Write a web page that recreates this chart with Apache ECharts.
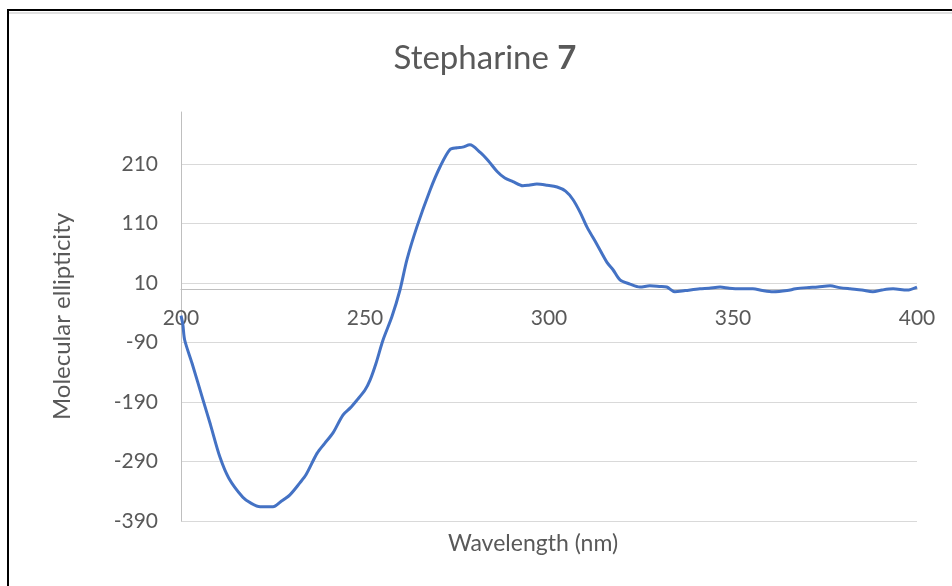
<!DOCTYPE html>
<html>
<head>
<meta charset="utf-8">
<script src="https://cdn.jsdelivr.net/npm/echarts@6/dist/echarts.min.js"></script>
<style>
html,body{margin:0;padding:0;background:#fff;}
#c{width:952px;height:586px;}
</style>
</head>
<body>
<div id="c"></div>
<script>
const wavelengths = [200,200.5,201,203,206,208,210.6,213,216.8,219,221.5,225,227,229.6,232.3,234,237,239,241.3,244,246,247.8,250,251.4,253,254.9,257.3,259.5,261.4,264.1,267.7,270.4,273.1,275,276.5,278.5,281.3,283.5,285.9,288,290.2,292.9,294.5,296.7,299.5,302.2,304.5,306.5,308.5,310.3,313,315.8,317.4,319.3,322,324.7,327.4,330,332,334.2,337,341,343.5,346.5,349,351.9,355.4,358,360.9,364.7,367,370.1,373,376.4,379,381.8,385,388,390.5,393.5,397.3,400];
const ellipticity = [-45,-60,-86,-125,-187,-228,-283,-318,-350,-360,-366,-366,-358,-346,-326,-312,-276,-260,-242,-212,-200,-187,-170,-153,-125,-86,-47,-2,49,104,166,205,234,237,238,242,229,215,197,186,180,173,174,176,174,171,164,150,128,104,75,44,32,15,8,3,5,4,3,-5,-3,0,1,3,1,0,0,-3,-5,-3,0,2,3,5,2,0,-2,-5,-2,0,-2,3];
const xTickLabels = [200,250,300,350,400];
const yTickLabels = [-390,-290,-190,-90,10,110,210];

const points = wavelengths.map((w,i)=>[w, ellipticity[i]]);
const txt = '#595959';
const font = 'Lato, "Open Sans", sans-serif';
const gridTop = 112, gridBottom = 65, H = 586;

const chart = echarts.init(document.getElementById('c'));
chart.setOption({
  animation:false,
  backgroundColor:'#fff',
  textStyle:{fontFamily:font},
  graphic:[
    {type:'rect', shape:{x:8,y:10,width:1000,height:700}, style:{fill:'none',stroke:'#000',lineWidth:2}, z:100},
    {type:'line', shape:{x1:9,y1:13,x2:952,y2:13}, style:{stroke:'#e0e0e0',lineWidth:2}, z:100},
    {type:'text', style:{
      text:'{n|Stepharine }{b|7}', x:485, y:58, align:'center', verticalAlign:'middle',
      rich:{n:{fontSize:33,fill:txt,fontFamily:font},b:{fontSize:33,fontWeight:'bold',fill:txt,fontFamily:font}}
    }},
    {type:'text', style:{text:'Wavelength (nm)', x:533, y:544, align:'center', verticalAlign:'middle', fontSize:23, fill:txt, fontFamily:font}}
  ],
  grid:{left:181,right:35,top:gridTop,bottom:gridBottom},
  xAxis:{
    type:'value', min:200, max:400, interval:50, position:'bottom',
    axisLine:{show:true,onZero:false,lineStyle:{color:'#bfbfbf',width:1}},
    axisTick:{show:false},
    splitLine:{show:false},
    axisLabel:{color:txt,fontSize:21,margin:19,fontFamily:font,
      formatter:v=>xTickLabels.includes(v)?String(v):''}
  },
  yAxis:{
    type:'value', min:-390, max:297, interval:100,
    name:'Molecular ellipticity', nameLocation:'middle', nameGap:107,
    nameTextStyle:{color:txt,fontSize:24,fontFamily:font},
    axisLine:{show:true,lineStyle:{color:'#bfbfbf',width:1}},
    axisTick:{show:false},
    splitLine:{show:true,lineStyle:{color:['#d9d9d9','#d9d9d9','#d9d9d9','#d9d9d9','#d9d9d9','#d9d9d9','#d9d9d9','rgba(0,0,0,0)'],width:1}},
    axisLabel:{color:txt,fontSize:21,margin:23,fontFamily:font,
      formatter:v=>yTickLabels.includes(v)?String(v):''}
  },
  series:[{
    type:'line', data:points, showSymbol:false, smooth:0.3,
    lineStyle:{color:'#4472C4',width:3}
  }]
});
// place the x axis where the y scale has its zero
const zeroPx = chart.convertToPixel({yAxisIndex:0}, 0);
chart.setOption({xAxis:{offset: -((H - gridBottom) - zeroPx)}});
</script>
</body>
</html>
